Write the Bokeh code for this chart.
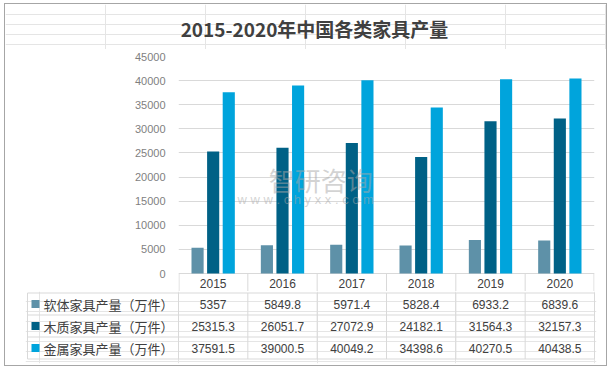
from bokeh.plotting import figure
from bokeh.models import ColumnDataSource, FactorRange, Range1d, FixedTicker, Label
from bokeh.layouts import column
from bokeh.transform import dodge
from bokeh.core.properties import value
from bokeh.embed import file_html
from bokeh.resources import INLINE

# ---------------- data ----------------
title_text = "2015-2020年中国各类家具产量"
years = ["2015", "2016", "2017", "2018", "2019", "2020"]
soft = [5357, 5849.8, 5971.4, 5828.4, 6933.2, 6839.6]
wood = [25315.3, 26051.7, 27072.9, 24182.1, 31564.3, 32157.3]
metal = [37591.5, 39000.5, 40049.2, 34398.6, 40270.5, 40438.5]
series_names = ["软体家具产量（万件）", "木质家具产量（万件）", "金属家具产量（万件）"]
y_ticks = [0, 5000, 10000, 15000, 20000, 25000, 30000, 35000, 40000, 45000]

# ---------------- styles / layout ----------------
colors = ["#5E91A8", "#006186", "#00A4DC"]
grid_col = "#d9d9d9"
text_col = "#404040"
offsets = [-0.225, 0.0, 0.225]
bar_w = 0.175
W = 601
col_px = (594 - 178) / 6.0          # pixels per category
plot_px = 217.0                      # pixels for the full y span
ymax = y_ticks[-1]
px2v = ymax / plot_px
header_px = 18                       # header row height below the axis
title_h = 45

src = ColumnDataSource(dict(year=years, soft=soft, wood=wood, metal=metal))
keys = ["soft", "wood", "metal"]
ncol = len(years)

# ---------------- title strip ----------------
tt = figure(x_range=Range1d(0, W), y_range=Range1d(title_h, 0), width=W, height=title_h,
            output_backend="svg", toolbar_location=None,
            x_axis_location=None, y_axis_location=None,
            min_border_left=0, min_border_right=0, min_border_top=0, min_border_bottom=0)
tt.frame_align = False
tt.outline_line_color = None
tt.border_fill_color = "white"
tt.background_fill_color = "white"
tt.text(x=[309], y=[24], text=[title_text], text_align="center", text_baseline="middle",
        text_font=value("Noto Sans CJK SC"), text_font_size="19px", text_font_style="bold",
        text_color=text_col)

# ---------------- chart (with header row of the table) ----------------
p = figure(x_range=FactorRange(factors=years), y_range=Range1d(-header_px * px2v, ymax),
           width=W, height=242, output_backend="svg", toolbar_location=None,
           x_axis_location=None, min_border_left=173, min_border_right=12,
           min_border_top=7, min_border_bottom=0)
p.frame_align = False
p.outline_line_color = None
p.background_fill_color = "white"
p.border_fill_color = "white"

for k, c, off in zip(keys, colors, offsets):
    p.vbar(x=dodge("year", off, range=p.x_range), top=k, width=bar_w,
           source=src, fill_color=c, line_color=None)

p.yaxis.ticker = FixedTicker(ticks=y_ticks)
p.yaxis.axis_line_color = None
p.yaxis.major_tick_line_color = None
p.yaxis.minor_tick_line_color = None
p.yaxis.major_tick_out = 0
p.yaxis.major_tick_in = 0
p.yaxis.major_label_standoff = 13
p.yaxis.major_label_text_font_size = "11px"
p.yaxis.major_label_text_color = "#7f7f7f"
p.yaxis.major_label_text_font = "Liberation Sans"
p.ygrid.grid_line_color = grid_col
p.xgrid.grid_line_color = None

# category separators through the header row
edge = 0.5 / col_px
sep_x = [0 + edge] + list(range(1, ncol)) + [ncol - edge]
p.segment(x0=sep_x, y0=[0] * (ncol + 1), x1=sep_x, y1=[-header_px * px2v] * (ncol + 1),
          line_color=grid_col, line_width=1)
# header years
p.text(x=years, y=[-(header_px / 2 + 0.5) * px2v] * ncol, text=years,
       text_align="center", text_baseline="middle", text_font_size="12px",
       text_color=text_col, text_font=value("Liberation Sans"))

# watermark
p.add_layout(Label(x=1.30, y=19500, text="智研咨询", text_font="Noto Sans CJK SC",
                   text_font_size="26px", text_color="#a8a8a8", text_alpha=0.5,
                   text_baseline="middle", text_align="left"))
p.add_layout(Label(x=0.85, y=15300, text="w w w . c h y x x . c o m", text_font="Liberation Sans",
                   text_font_size="13px", text_color="#a8a8a8", text_alpha=0.5,
                   text_baseline="middle", text_align="left"))

# ---------------- table body ----------------
t = figure(x_range=Range1d((25 - 178) / col_px, (596 - 178) / col_px),
           y_range=Range1d(72, 0), width=W, height=74,
           output_backend="svg", toolbar_location=None,
           x_axis_location=None, y_axis_location=None,
           min_border_left=20, min_border_right=10, min_border_top=0, min_border_bottom=2)
t.frame_align = False
t.outline_line_color = None
t.border_fill_color = "white"
t.background_fill_color = "white"

tl = (27 - 178) / col_px
row_lines = [1.5, 23.5, 45.5, 67.5]

t.segment(x0=[tl] * len(row_lines), y0=row_lines, x1=[ncol] * len(row_lines), y1=row_lines,
          line_color=grid_col, line_width=1)
vx = list(range(ncol + 1)) + [tl]
t.segment(x0=vx, y0=[row_lines[0]] * len(vx), x1=vx, y1=[row_lines[-1]] * len(vx),
          line_color=grid_col, line_width=1)

centers = [(row_lines[i] + row_lines[i + 1]) / 2 for i in range(len(row_lines) - 1)]

for r, vals in enumerate([soft, wood, metal]):
    t.text(x=[i + 0.5 for i in range(ncol)], y=[centers[r] + 0.5] * ncol,
           text=[f"{v:g}" for v in vals], text_align="center", text_baseline="middle",
           text_font_size="12px", text_color=text_col, text_font=value("Liberation Sans"))

sq_x = (35 - 178) / col_px
lab_x = (43 - 178) / col_px
t.scatter(x=[sq_x] * 3, y=centers, marker="square", size=8, fill_color=colors, line_color=None)
t.text(x=[lab_x] * 3, y=centers, text=series_names, text_align="left", text_baseline="middle",
       text_font_size="13px", text_color=text_col, text_font=value("Noto Sans CJK SC"))

layout = column(tt, p, t, styles={"border": "1px solid #a6a6a6", "margin-left": "4px", "margin-top": "3px"})

open("out.html", "w").write(file_html(layout, INLINE))
